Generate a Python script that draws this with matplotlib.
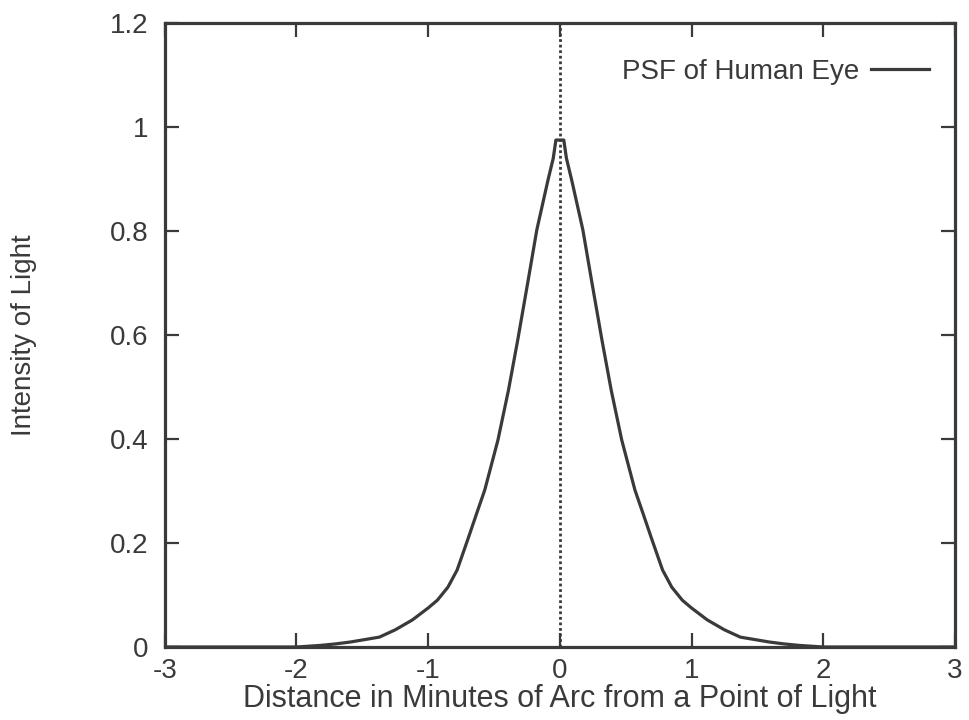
import numpy as np
import matplotlib.pyplot as plt

# curve (left half, right side mirrors it)
dist = [-3.0, -2.5, -2.0, -1.82, -1.7, -1.59, -1.37, -1.25, -1.12, -1.0,
        -0.93, -0.85, -0.78, -0.70, -0.63, -0.57, -0.47, -0.39, -0.32,
        -0.24, -0.175, -0.09, -0.05, -0.03,
        0.03, 0.05, 0.09, 0.175, 0.24, 0.32, 0.39, 0.47, 0.57, 0.63,
        0.70, 0.78, 0.85, 0.93, 1.0, 1.12, 1.25, 1.37, 1.59, 1.7, 1.82,
        2.0, 2.5, 3.0]
intensity = [0.0, 0.0, 0.0, 0.003, 0.006, 0.0096, 0.019, 0.033, 0.052, 0.075,
             0.090, 0.115, 0.148, 0.206, 0.258, 0.302, 0.398, 0.494, 0.59,
             0.706, 0.802, 0.898, 0.94, 0.975,
             0.975, 0.94, 0.898, 0.802, 0.706, 0.59, 0.494, 0.398, 0.302, 0.258,
             0.206, 0.148, 0.115, 0.090, 0.075, 0.052, 0.033, 0.019, 0.0096, 0.006, 0.003,
             0.0, 0.0, 0.0]

xticks = [-3, -2, -1, 0, 1, 2, 3]
yticks = [0, 0.2, 0.4, 0.6, 0.8, 1.0, 1.2]
yticklabels = ['0', '0.2', '0.4', '0.6', '0.8', '1', '1.2']

ink = '#3a3a3a'
plt.rcParams['font.family'] = ['Liberation Sans', 'DejaVu Sans']

fig = plt.figure(figsize=(9.69, 7.2), dpi=100)
ax = fig.add_axes([0.170, 0.1014, 0.8155, 0.8666])

ax.plot(dist, intensity, color=ink, lw=2.3, label='PSF of Human Eye')
ax.axvline(0, color=ink, lw=2.0, ls=(0, (1, 1)))

ax.set_xlim(-3, 3)
ax.set_ylim(0, 1.2)
ax.set_xticks(xticks)
ax.set_xticklabels([str(t) for t in xticks])
ax.set_yticks(yticks)
ax.set_yticklabels(yticklabels)
ax.tick_params(direction='in', length=10, width=1.6, colors=ink,
               labelsize=20, top=True, right=True, pad=12)
ax.tick_params(axis='x', pad=8)
for s in ax.spines.values():
    s.set_color(ink)
    s.set_linewidth(2.3)

ax.set_xlabel('Distance in Minutes of Arc from a Point of Light',
              fontsize=22, color=ink, labelpad=0)
ax.set_ylabel('Intensity of Light', fontsize=20, color=ink, labelpad=52)

leg = ax.legend(loc='upper right', bbox_to_anchor=(0.9937, 0.976),
                frameon=False, fontsize=20,
                markerfirst=False, handlelength=2.1, handletextpad=0.4,
                borderaxespad=0.35, labelcolor=ink)

fig.savefig('out.png', dpi=100)
